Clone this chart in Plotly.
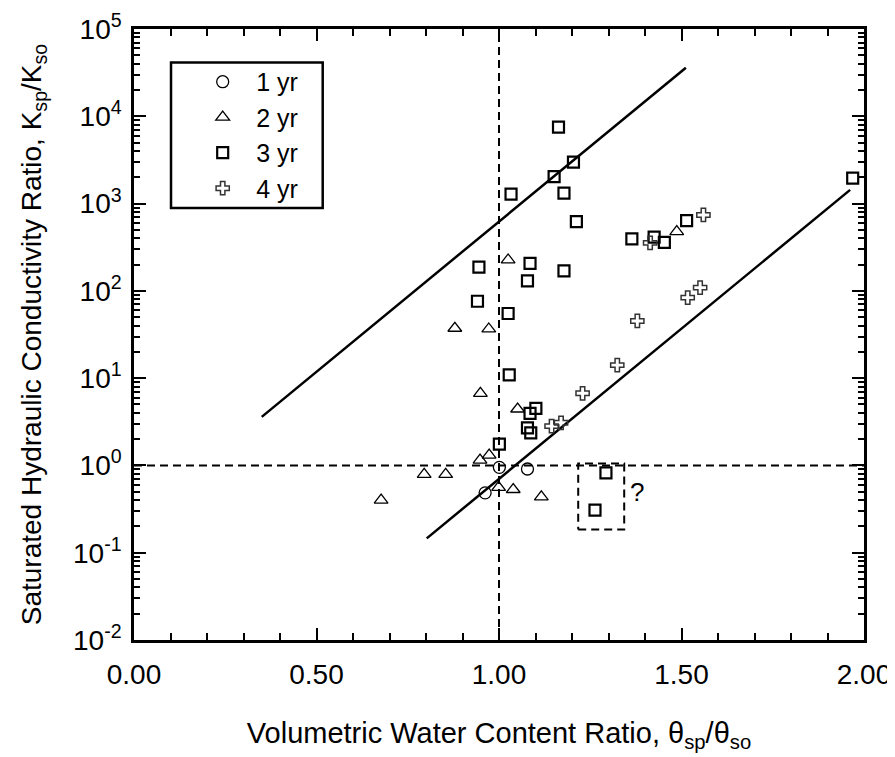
import numpy as np
import plotly.graph_objects as go

# ---- data ----
yr1_x = [0.962, 1.001, 1.078]
yr1_y = [0.485, 0.95, 0.91]

yr2_x = [0.677, 0.795, 0.854, 0.879, 0.948, 0.949, 0.972, 0.973, 0.999, 1.025, 1.039, 1.051, 1.116, 1.487]
yr2_y = [0.40, 0.79, 0.79, 37.3, 1.15, 6.7, 36.6, 1.31, 0.56, 226, 0.53, 4.43, 0.436, 478]

yr3_x = [1.163, 1.204, 1.151, 1.033, 1.178, 1.212, 1.969, 1.514, 1.364, 1.425, 1.453,
         1.085, 0.945, 1.178, 1.078, 0.941, 1.025, 1.028, 1.101, 1.085, 1.078, 1.087,
         1.001, 1.263, 1.293]
yr3_y = [7520, 2985, 2040, 1282, 1315, 622, 1955, 638, 394, 412, 360,
         207, 187, 169, 130, 76, 55, 10.9, 4.51, 3.95, 2.70, 2.36,
         1.75, 0.307, 0.82]

yr4_x = [1.414, 1.560, 1.551, 1.517, 1.379, 1.324, 1.229, 1.144, 1.170]
yr4_y = [355, 741, 109, 83.6, 45.2, 14.1, 6.7, 2.82, 3.08]

upper_x = [0.350, 1.512]
upper_y = [3.6, 36000]
lower_x = [0.802, 1.962]
lower_y = [0.146, 1436]

ref_x = 1.0
ref_y = 1.0
box_x = [1.217, 1.343]
box_y = [0.185, 1.05]
q_x, q_y = 1.377, 0.50

x_range = [0.0, 2.0]
y_range = [1e-2, 1e5]
x_tickvals = [0.0, 0.5, 1.0, 1.5, 2.0]
x_ticktext = ["0.00", "0.50", "1.00", "1.50", "2.00"]
y_exponents = [-2, -1, 0, 1, 2, 3, 4, 5]

FONT = "Liberation Sans, Arial, sans-serif"

y_tickvals = [10.0 ** e for e in y_exponents]
y_ticktext = ["10<sup>%d</sup>" % e for e in y_exponents]
y_minor = [m * 10.0 ** e for e in y_exponents[:-1] for m in range(2, 10)]
x_minor = [i / 10 for i in range(21)]

fig = go.Figure()

dash = dict(color="black", width=2, dash="8px,5px")
fig.add_trace(go.Scatter(x=[ref_x, ref_x], y=y_range, mode="lines", line=dash,
                         showlegend=False, hoverinfo="skip"))
fig.add_trace(go.Scatter(x=x_range, y=[ref_y, ref_y], mode="lines", line=dash,
                         showlegend=False, hoverinfo="skip"))
fig.add_trace(go.Scatter(x=[box_x[0], box_x[1], box_x[1], box_x[0], box_x[0]],
                         y=[box_y[0], box_y[0], box_y[1], box_y[1], box_y[0]],
                         mode="lines", line=dash, showlegend=False, hoverinfo="skip"))

for lx, ly in [(upper_x, upper_y), (lower_x, lower_y)]:
    fig.add_trace(go.Scatter(x=lx, y=ly, mode="lines",
                             line=dict(color="black", width=2.5),
                             showlegend=False, hoverinfo="skip"))

fig.add_trace(go.Scatter(x=yr1_x, y=yr1_y, mode="markers", name="1 yr",
                         marker=dict(symbol="circle-open", size=12, color="black",
                                     line=dict(width=1.3, color="black"))))
fig.add_trace(go.Scatter(x=yr2_x, y=yr2_y, mode="markers", name="2 yr",
                         marker=dict(symbol="triangle-up-open", size=12, color="black",
                                     line=dict(width=1.3, color="black"))))
fig.add_trace(go.Scatter(x=yr3_x, y=yr3_y, mode="markers", name="3 yr",
                         marker=dict(symbol="square-open", size=11, color="black",
                                     line=dict(width=2.2, color="black"))))
fig.add_trace(go.Scatter(x=yr4_x, y=yr4_y, mode="markers", name="4 yr",
                         marker=dict(symbol="cross-open", size=11, color="#333333",
                                     line=dict(width=1.5, color="#333333"))))

fig.add_annotation(x=q_x, y=np.log10(q_y), xref="x", yref="y", text="?",
                   showarrow=False, font=dict(size=26, color="black", family=FONT))

# legend frame
fig.add_shape(type="rect", xref="paper", yref="paper",
              x0=0.0507, x1=0.2585, y0=0.7069, y1=0.9453,
              line=dict(color="black", width=2.5), fillcolor="rgba(0,0,0,0)")

fig.update_layout(
    width=887, height=749,
    margin=dict(l=126, r=31, t=21, b=117),
    paper_bgcolor="white", plot_bgcolor="white",
    font=dict(family=FONT, color="black", size=28),
    legend=dict(x=0.0756, y=0.951, xanchor="left", yanchor="top",
                bgcolor="rgba(0,0,0,0)", borderwidth=0,
                font=dict(size=25, family=FONT, color="black"),
                itemwidth=57),
    showlegend=True,
)

fig.update_xaxes(
    range=x_range, tickmode="array", tickvals=x_tickvals, ticktext=x_ticktext,
    ticks="inside", ticklen=12, tickwidth=2, tickcolor="black",
    minor=dict(tickmode="array", tickvals=x_minor, ticks="inside", ticklen=7,
               tickwidth=2, tickcolor="black", showgrid=False),
    showline=True, linewidth=2.5, linecolor="black", mirror="ticks",
    showgrid=False, zeroline=False, automargin=False,
    tickfont=dict(size=28, family=FONT), ticklabelstandoff=8,
    title=dict(text="Volumetric Water Content Ratio, θ<sub>sp</sub>/θ<sub>so</sub>",
               font=dict(size=29, family=FONT), standoff=34),
)

fig.update_yaxes(
    type="log", range=[np.log10(y_range[0]), np.log10(y_range[1])],
    tickmode="array", tickvals=y_tickvals, ticktext=y_ticktext,
    ticks="inside", ticklen=12, tickwidth=2, tickcolor="black",
    minor=dict(tickmode="array", tickvals=y_minor, ticks="inside", ticklen=6,
               tickwidth=2, tickcolor="black", showgrid=False),
    showline=True, linewidth=2.5, linecolor="black", mirror="ticks",
    showgrid=False, zeroline=False, automargin=False,
    tickfont=dict(size=28, family=FONT), ticklabelstandoff=4,
    title=dict(text="Saturated Hydraulic Conductivity Ratio, K<sub>sp</sub>/K<sub>so</sub>",
               font=dict(size=28, family=FONT), standoff=24),
)

fig.write_html("out.html")
